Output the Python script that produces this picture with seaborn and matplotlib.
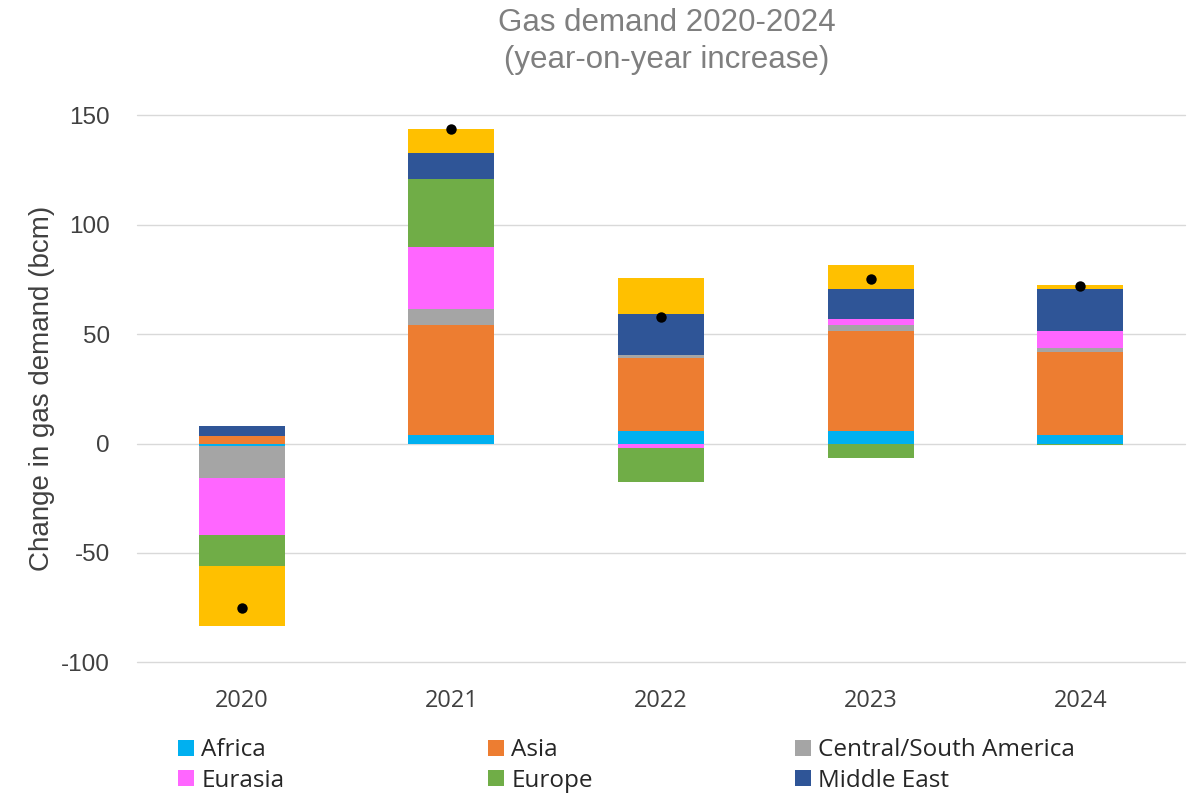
import numpy as np
import matplotlib
matplotlib.use("Agg")
import matplotlib.pyplot as plt
from matplotlib.patches import Patch
import seaborn as sns

# Year-on-year change in gas demand by region (bcm)
years = ["2020", "2021", "2022", "2023", "2024"]
africa = [-1.0, 3.7, 5.6, 5.6, 3.7]
asia = [3.6, 50.5, 33.5, 46.0, 38.0]
central_south_america = [-14.7, 7.3, 1.4, 2.7, 1.8]
eurasia = [-26.0, 28.5, -2.0, 2.6, 8.1]
europe = [-14.5, 31.0, -15.6, -6.5, -0.7]
middle_east = [4.4, 12.0, 18.5, 13.7, 19.0]
north_america = [-27.0, 11.0, 16.5, 11.0, 2.0]

series_names = ["Africa", "Asia", "Central/South America", "Eurasia",
                "Europe", "Middle East", "North America"]
series_values = [africa, asia, central_south_america, eurasia,
                 europe, middle_east, north_america]
series_colors = ["#00B0F0", "#ED7D31", "#A5A5A5", "#FF66FF",
                 "#70AD47", "#2F5597", "#FFC000"]
legend_names = series_names[:6]

sns.set_theme(style="white")
plt.rcParams["font.family"] = ["Liberation Sans", "DejaVu Sans"]
plt.rcParams["axes.unicode_minus"] = False

fig = plt.figure(figsize=(11.9, 7.96), dpi=100)
ax = fig.add_axes([0.115, 0.168, 0.881, 0.687])

vals = np.array(series_values, dtype=float)
pos_cum = np.cumsum(np.clip(vals, 0, None), axis=0)
neg_cum = np.cumsum(np.clip(vals, None, 0), axis=0)
totals = vals.sum(axis=0)

# Stack by overdrawing cumulative bars from the outermost series inwards
for k in range(len(series_names) - 1, -1, -1):
    for cum in (pos_cum[k], neg_cum[k]):
        sns.barplot(x=years, y=cum, color=series_colors[k], saturation=1,
                    width=0.41, linewidth=0, ax=ax, zorder=2)

# Net change per year
sns.stripplot(x=years, y=totals, color="black", size=7.5, jitter=False,
              ax=ax, zorder=5)

ax.set_ylim(-100, 150)
ax.set_xlim(-0.5, 4.5)
ax.set_yticks([-100, -50, 0, 50, 100, 150])
ax.yaxis.grid(True, color="#D9D9D9", linewidth=1.0, zorder=0)
for gl in ax.get_ygridlines():
    gl.set_clip_on(False)
ax.set_axisbelow(True)
for s in ax.spines.values():
    s.set_visible(False)
ax.tick_params(axis="both", length=0)
ax.tick_params(axis="y", labelsize=17.5, labelcolor="#404040", pad=19.5)
ax.tick_params(axis="x", labelsize=17, labelcolor="#404040", pad=19)
for lbl in ax.get_xticklabels():
    lbl.set_fontfamily("Open Sans")
ax.set_xlabel("")
ax.set_ylabel("Change in gas demand (bcm)", fontsize=20, color="#404040",
              labelpad=4)

title_x = 0.5605
fig.text(title_x, 1 - 31 / 796, "Gas demand 2020-2024", ha="center",
         va="baseline", fontsize=22.5, color="#7F7F7F")
fig.text(title_x, 1 - 68 / 796, "(year-on-year increase)", ha="center",
         va="baseline", fontsize=22.5, color="#7F7F7F")

# Legend laid out as three columns of two rows
col_x = [0.1496, 0.4101, 0.6681]
for c in range(3):
    idx = [c, c + 3]
    handles = [Patch(facecolor=series_colors[i], edgecolor="none") for i in idx]
    fig.legend(handles, [legend_names[i] for i in idx], loc="center left",
               bbox_to_anchor=(col_x[c], 1 - 765.5 / 796), frameon=False,
               prop={"family": "Open Sans", "size": 17.5},
               handlelength=0.66, handleheight=0.66, handletextpad=0.3,
               labelspacing=0.25, borderaxespad=0, borderpad=0,
               labelcolor="#262626")

fig.savefig("out.png", dpi=100)
